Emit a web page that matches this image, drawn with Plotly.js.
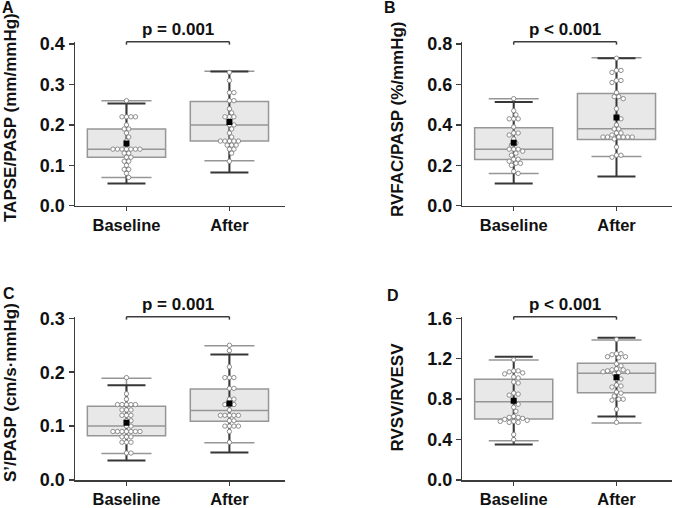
<!DOCTYPE html>
<html>
<head>
<meta charset="utf-8">
<script src="https://cdn.plot.ly/plotly-3.0.1.min.js"></script>
<style>body{margin:0;background:#fff;}</style>
</head>
<body>
<div id="myDiv" style="width:675px;height:508px;"></div>
<script>
// groups
var groups = ["Baseline", "After"];

// A - TAPSE/PASP
var a_base = [0.26, 0.22, 0.22, 0.22, 0.22, 0.20, 0.19, 0.19, 0.18, 0.17, 0.16, 0.14, 0.14, 0.14, 0.14, 0.14, 0.14, 0.14, 0.13, 0.13, 0.12, 0.12, 0.11, 0.11, 0.10, 0.09, 0.09, 0.08, 0.07];
var a_after = [0.33, 0.31, 0.28, 0.28, 0.26, 0.26, 0.24, 0.23, 0.22, 0.22, 0.22, 0.20, 0.20, 0.19, 0.18, 0.17, 0.16, 0.16, 0.16, 0.16, 0.16, 0.15, 0.15, 0.15, 0.14, 0.14, 0.13, 0.11];
var a_q1 = [0.12, 0.16], a_med = [0.14, 0.20], a_q3 = [0.19, 0.258];
var a_lo = [0.07, 0.111], a_hi = [0.26, 0.333];
var a_mean = [0.154, 0.207], a_sd = [0.099, 0.125];

// B - RVFAC/PASP
var b_base = [0.53, 0.47, 0.45, 0.43, 0.43, 0.43, 0.39, 0.36, 0.36, 0.35, 0.33, 0.31, 0.30, 0.28, 0.28, 0.28, 0.27, 0.26, 0.25, 0.23, 0.23, 0.22, 0.21, 0.21, 0.20, 0.17, 0.16];
var b_after = [0.73, 0.67, 0.67, 0.66, 0.62, 0.62, 0.61, 0.56, 0.54, 0.54, 0.53, 0.48, 0.44, 0.43, 0.40, 0.38, 0.38, 0.36, 0.36, 0.35, 0.34, 0.34, 0.34, 0.34, 0.34, 0.34, 0.33, 0.29, 0.25, 0.25, 0.24];
var b_q1 = [0.229, 0.328], b_med = [0.28, 0.381], b_q3 = [0.386, 0.556];
var b_lo = [0.16, 0.243], b_hi = [0.53, 0.733];
var b_mean = [0.312, 0.437], b_sd = [0.202, 0.293];

// C - S'/PASP
var c_base = [0.19, 0.16, 0.15, 0.14, 0.14, 0.14, 0.14, 0.14, 0.13, 0.13, 0.13, 0.12, 0.12, 0.12, 0.11, 0.11, 0.10, 0.10, 0.09, 0.09, 0.09, 0.09, 0.09, 0.09, 0.09, 0.08, 0.08, 0.08, 0.07, 0.07, 0.07, 0.05, 0.05];
var c_after = [0.25, 0.24, 0.21, 0.19, 0.19, 0.19, 0.17, 0.17, 0.15, 0.15, 0.14, 0.14, 0.14, 0.13, 0.12, 0.12, 0.12, 0.12, 0.12, 0.11, 0.11, 0.10, 0.10, 0.10, 0.10, 0.09, 0.07];
var c_q1 = [0.082, 0.109], c_med = [0.10, 0.129], c_q3 = [0.137, 0.169];
var c_lo = [0.049, 0.069], c_hi = [0.189, 0.249];
var c_mean = [0.106, 0.142], c_sd = [0.07, 0.091];

// D - RVSV/RVESV
var d_base = [1.19, 1.08, 1.08, 1.07, 1.06, 1.05, 1.02, 1.01, 0.97, 0.96, 0.86, 0.85, 0.84, 0.78, 0.75, 0.72, 0.68, 0.63, 0.62, 0.62, 0.61, 0.60, 0.59, 0.58, 0.58, 0.57, 0.57, 0.45, 0.40];
var d_after = [1.39, 1.25, 1.25, 1.24, 1.22, 1.22, 1.21, 1.15, 1.13, 1.10, 1.09, 1.09, 1.08, 1.07, 1.07, 1.06, 1.05, 1.00, 1.00, 0.94, 0.93, 0.92, 0.87, 0.86, 0.83, 0.80, 0.80, 0.79, 0.70, 0.57];
var d_q1 = [0.604, 0.864], d_med = [0.775, 1.056], d_q3 = [0.996, 1.155];
var d_lo = [0.389, 0.564], d_hi = [1.188, 1.386];
var d_mean = [0.785, 1.018], d_sd = [0.434, 0.39];

var pvals = ["p = 0.001", "p < 0.001", "p = 0.001", "p < 0.001"];
var ytitles = ["TAPSE/PASP (mm/mmHg)", "RVFAC/PASP (%/mmHg)", "S’/PASP (cm/s·mmHg)", "RVSV/RVESV"];
var letters = ["A", "B", "C", "D"];

var FONT = "Liberation Sans, Arial, sans-serif";
var xr = [-0.5, 1.54];
var pxPerX = 210 / (xr[1] - xr[0]);

// simple beeswarm: push points sideways until they stop overlapping (pixel space)
function swarm(vals, pxPerY) {
  var d = 4.5, placed = [], xs = [];
  vals.forEach(function (v) {
    var y = v * pxPerY, pos = 0;
    for (var k = 0; k < 40; k++) {
      var cands = k === 0 ? [0] : [k * d / 2, -k * d / 2];
      var hit = null;
      for (var c = 0; c < cands.length; c++) {
        var ok = placed.every(function (p) {
          var dx = p[0] - cands[c], dy = p[1] - y;
          return dx * dx + dy * dy >= d * d * 0.9;
        });
        if (ok) { hit = cands[c]; break; }
      }
      if (hit !== null) { pos = hit; break; }
    }
    placed.push([pos, y]);
    xs.push(pos / pxPerX);
  });
  return xs;
}

var panels = [
  {base: a_base, after: a_after, q1: a_q1, med: a_med, q3: a_q3, lo: a_lo, hi: a_hi, mean: a_mean, sd: a_sd, range: [0, 0.406], dtick: 0.1},
  {base: b_base, after: b_after, q1: b_q1, med: b_med, q3: b_q3, lo: b_lo, hi: b_hi, mean: b_mean, sd: b_sd, range: [0, 0.812], dtick: 0.2},
  {base: c_base, after: c_after, q1: c_q1, med: c_med, q3: c_q3, lo: c_lo, hi: c_hi, mean: c_mean, sd: c_sd, range: [0, 0.303], dtick: 0.1},
  {base: d_base, after: d_after, q1: d_q1, med: d_med, q3: d_q3, lo: d_lo, hi: d_hi, mean: d_mean, sd: d_sd, range: [0, 1.616], dtick: 0.4}
];

// pixel boxes of each plot area [left, right, top, bottom]
var boxes = [[75, 285, 41.7, 205.7], [462.3, 672, 41.7, 205.7], [75, 285, 316.7, 480], [462.3, 672, 316.7, 480]];
// y-title centres and letter positions (px)
var titlePos = [[10, 118], [397, 119], [10, 393], [397, 397.5]];
var letterPos = [[8, 8], [390, 8], [9, 293], [393, 295]];

var W = 675, H = 508;
var data = [], annotations = [], shapes = [];
var layout = {
  width: W, height: H,
  margin: {l: 0, r: 0, t: 0, b: 0},
  paper_bgcolor: "white", plot_bgcolor: "white",
  showlegend: false,
  font: {family: FONT, color: "#111"}
};

panels.forEach(function (p, i) {
  var n = i + 1;
  var xa = "x" + (n === 1 ? "" : n), ya = "y" + (n === 1 ? "" : n);
  var b = boxes[i];
  var pxPerY = (b[3] - b[2]) / (p.range[1] - p.range[0]);

  data.push({
    type: "box", x: [0, 1], q1: p.q1, median: p.med, q3: p.q3,
    lowerfence: p.lo, upperfence: p.hi,
    width: 0.76, whiskerwidth: 0.64, boxpoints: false,
    fillcolor: "rgb(232,232,232)",
    line: {color: "rgb(150,150,150)", width: 1.5},
    xaxis: xa, yaxis: ya, hoverinfo: "skip"
  });

  data.push({
    type: "scatter", mode: "markers", x: [0, 1], y: p.mean,
    marker: {size: 1, color: "rgba(0,0,0,0)"},
    error_y: {type: "data", array: p.sd, color: "rgb(55,55,55)", thickness: 2, width: 19},
    xaxis: xa, yaxis: ya, hoverinfo: "skip"
  });

  [p.base, p.after].forEach(function (vals, g) {
    var sorted = vals.slice().sort(function (u, v) { return v - u; });
    var offs = swarm(sorted, pxPerY);
    data.push({
      type: "scatter", mode: "markers",
      x: offs.map(function (o) { return g + o; }), y: sorted,
      marker: {symbol: "circle", size: 4.4, color: "white", line: {color: "rgb(130,130,130)", width: 0.9}},
      xaxis: xa, yaxis: ya, hoverinfo: "skip"
    });
  });

  data.push({
    type: "scatter", mode: "markers", x: [0, 1], y: p.mean,
    marker: {symbol: "square", size: 6, color: "black"},
    xaxis: xa, yaxis: ya, hoverinfo: "skip"
  });

  var axLine = {showline: true, linecolor: "rgb(60,60,60)", linewidth: 1.5, showgrid: false, zeroline: false,
    ticks: "outside", ticklen: 5, tickwidth: 1.5, tickcolor: "rgb(60,60,60)"};

  layout["xaxis" + (n === 1 ? "" : n)] = Object.assign({}, axLine, {
    domain: [b[0] / W, b[1] / W], range: xr, anchor: ya,
    tickvals: [0, 1], ticktext: groups, ticklen: 4,
    tickfont: {family: FONT, size: 16.5, weight: "bold", color: "#111"}
  });
  layout["yaxis" + (n === 1 ? "" : n)] = Object.assign({}, axLine, {
    domain: [(H - b[3]) / H, (H - b[2]) / H], range: p.range, anchor: xa,
    tick0: 0, dtick: p.dtick, tickformat: ".1f",
    tickfont: {family: FONT, size: 18, weight: "bold", color: "#111"}
  });

  // significance bracket
  var sc = "rgb(60,60,60)";
  shapes.push({type: "line", xref: xa, yref: ya + " domain", x0: 0, x1: 1, y0: 1, y1: 1, line: {color: sc, width: 1.5}});
  shapes.push({type: "line", xref: xa, yref: ya + " domain", x0: 0, x1: 0, y0: 1, y1: 0.982, line: {color: sc, width: 1.5}});
  shapes.push({type: "line", xref: xa, yref: ya + " domain", x0: 1, x1: 1, y0: 1, y1: 0.982, line: {color: sc, width: 1.5}});

  annotations.push({
    xref: xa, yref: ya + " domain", x: 0.5, y: 1, yanchor: "bottom", yshift: 1,
    text: pvals[i], showarrow: false,
    font: {family: FONT, size: 17, weight: "bold", color: "#111"}
  });
  annotations.push({
    xref: "paper", yref: "paper", x: titlePos[i][0] / W, y: (H - titlePos[i][1]) / H,
    xanchor: "center", yanchor: "middle", textangle: -90,
    text: ytitles[i], showarrow: false,
    font: {family: FONT, size: 17, weight: "bold", color: "#111"}
  });
  annotations.push({
    xref: "paper", yref: "paper", x: letterPos[i][0] / W, y: (H - letterPos[i][1]) / H,
    xanchor: "center", yanchor: "middle",
    text: letters[i], showarrow: false,
    font: {family: FONT, size: 16, weight: "bold", color: "#111"}
  });
});

layout.annotations = annotations;
layout.shapes = shapes;

Plotly.newPlot("myDiv", data, layout, {displayModeBar: false, staticPlot: true});
</script>
</body>
</html>
